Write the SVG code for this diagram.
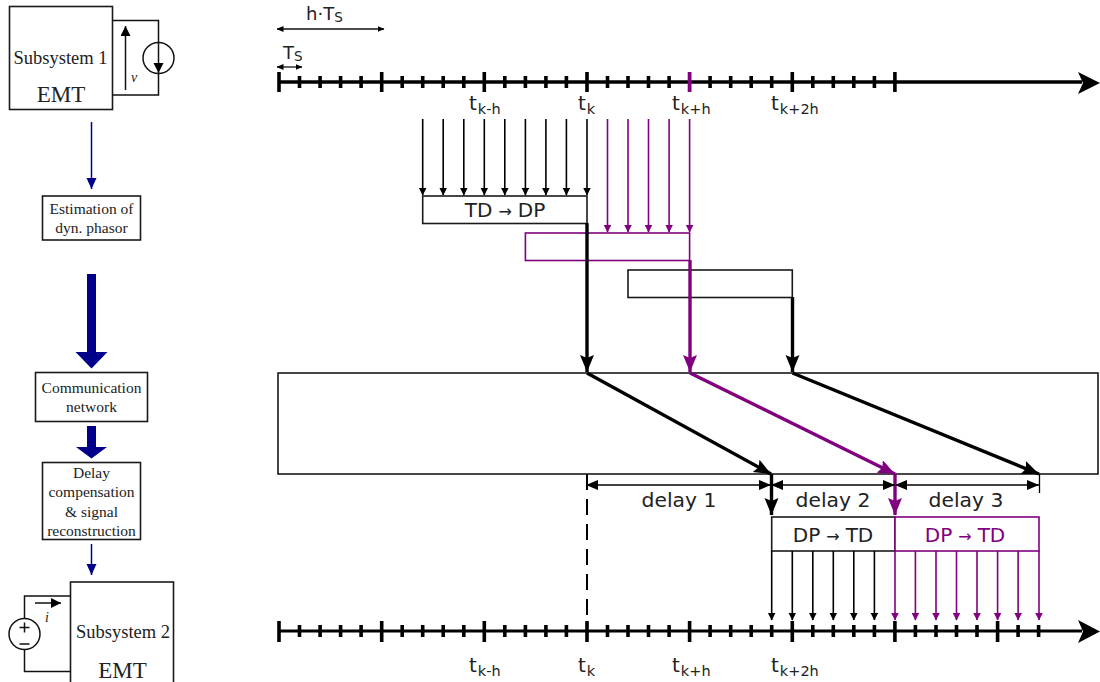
<svg xmlns="http://www.w3.org/2000/svg" width="1100" height="682" viewBox="0 0 1100 682">
<defs>
<marker id="aK" markerUnits="userSpaceOnUse" markerWidth="8" markerHeight="9" refX="7.5" refY="4" orient="auto"><path d="M0 0L8 4L0 8z" fill="#000"/></marker>
<marker id="aP" markerUnits="userSpaceOnUse" markerWidth="8" markerHeight="9" refX="7.5" refY="4" orient="auto"><path d="M0 0L8 4L0 8z" fill="#800080"/></marker>
<marker id="bK" markerUnits="userSpaceOnUse" markerWidth="18" markerHeight="15" refX="17" refY="7" orient="auto"><path d="M0 0L17 7L0 14L3 7z" fill="#000"/></marker>
<marker id="bP" markerUnits="userSpaceOnUse" markerWidth="18" markerHeight="15" refX="17" refY="7" orient="auto"><path d="M0 0L17 7L0 14L3 7z" fill="#800080"/></marker>
<marker id="dK" markerUnits="userSpaceOnUse" markerWidth="13" markerHeight="11" refX="12" refY="5" orient="auto"><path d="M0 0L12 5L0 10z" fill="#000"/></marker>
<marker id="dS" markerUnits="userSpaceOnUse" markerWidth="13" markerHeight="11" refX="1" refY="5" orient="auto"><path d="M12 0L0 5L12 10z" fill="#000"/></marker>
<marker id="uK" markerUnits="userSpaceOnUse" markerWidth="7" markerHeight="7" refX="6.500" refY="3" orient="auto"><path d="M0 0L7 3L0 6z" fill="#000"/></marker>
<marker id="uS" markerUnits="userSpaceOnUse" markerWidth="7" markerHeight="7" refX="0.500" refY="3" orient="auto"><path d="M7 0L0 3L7 6z" fill="#000"/></marker>
<marker id="bl" markerUnits="userSpaceOnUse" markerWidth="11" markerHeight="13" refX="11" refY="5" orient="auto"><path d="M0 0L11 5L0 10z" fill="#00008b"/></marker>
<marker id="cK" markerUnits="userSpaceOnUse" markerWidth="11" markerHeight="11" refX="10" refY="5" orient="auto"><path d="M0 0L10 5L0 10z" fill="#000"/></marker>
</defs>
<style>
.box{fill:#fff;stroke:#1a1a1a;stroke-width:1.6}
.sm{fill:none;stroke:#111;stroke-width:1.3}
.serif{font-family:"Liberation Serif","Times New Roman",serif;fill:#222;text-anchor:middle}
.sans{font-family:"DejaVu Sans",sans-serif;fill:#222}
.s14{font-size:15.5px}
.s16{font-size:18.5px}
.s20{font-size:23px}
.t{font-size:20px}
.sub{font-size:14.5px}
.kT{fill:none;stroke:#000;stroke-width:1.6;marker-end:url(#aK)}
.pT{fill:none;stroke:#800080;stroke-width:1.6;marker-end:url(#aP)}
.kB{fill:none;stroke:#000;stroke-width:3.4;marker-end:url(#bK)}
.pB{fill:none;stroke:#800080;stroke-width:3.4;marker-end:url(#bP)}
.dim{fill:none;stroke:#000;stroke-width:1.6;marker-start:url(#dS);marker-end:url(#dK)}
.blue{fill:none;stroke:#00008b;stroke-width:1.5;marker-end:url(#bl)}
.conv{font-size:20px;text-anchor:middle}
.arr{font-size:16px}
.dl{font-size:20.3px;text-anchor:middle}
</style>

<g id="subsystem1">
<rect class="box" x="9.500" y="6.500" width="103" height="103"/>
<path class="sm" style="stroke-width:1.500" d="M112.500 20.500H158.500V95H112.500"/>
<circle cx="158.500" cy="58" r="15.500" fill="#fff" stroke="#111" stroke-width="1.500"/>
<path d="M158.500 43V73" class="sm" style="stroke-width:1.500;marker-end:url(#cK)"/>
<path d="M125.500 90V26" class="sm" style="stroke-width:1.500;marker-end:url(#cK)"/>
<text class="serif" x="134" y="82" font-size="14" font-style="italic">v</text>
<text class="serif s16" x="60.500" y="64">Subsystem 1</text>
<text class="serif s20" x="61" y="102">EMT</text>
</g>
<g id="estimation">
<rect class="box" x="42.500" y="196" width="98" height="44"/>
<text class="serif s14" x="91.500" y="214">Estimation of</text>
<text class="serif s14" x="91.500" y="233">dyn. phasor</text>
</g>
<g id="network">
<rect class="box" x="35.500" y="372.500" width="112" height="49"/>
<text class="serif s14" x="91.500" y="393">Communication</text>
<text class="serif s14" x="91.500" y="412">network</text>
</g>
<g id="delaycomp">
<rect class="box" x="42.500" y="462.500" width="98" height="77"/>
<text class="serif s14" x="91.500" y="478">Delay</text>
<text class="serif s14" x="91.500" y="497">compensation</text>
<text class="serif s14" x="91.500" y="517">&amp; signal</text>
<text class="serif s14" x="91.500" y="536">reconstruction</text>
</g>
<g id="subsystem2">
<rect class="box" x="70.500" y="582" width="103" height="110"/>
<path class="sm" d="M70.500 596H24.500V671.500H70.500" style="stroke-width:1.500"/>
<circle cx="24.500" cy="634" r="15.500" fill="#fff" stroke="#111" stroke-width="1.500"/>
<path d="M24.500 622.500v10M19.500 627.500h10M19.500 644h10" class="sm" style="stroke-width:1.500"/>
<path d="M35 603H61" class="sm" style="stroke-width:1.500;marker-end:url(#cK)"/>
<text class="serif" x="47" y="622" font-size="14" font-style="italic">i</text>
<text class="serif s16" x="123" y="638">Subsystem 2</text>
<text class="serif s20" x="122.500" y="678">EMT</text>
</g>

<g id="connectors-left">
<path class="blue" d="M91.500 122V189"/>
<path d="M87 274h9v78h11.500l-16 16.500l-16-16.500h11.500z" fill="#00008b"/>
<path d="M87 426h9v21h11l-15.500 11.500l-15.500-11.500h11z" fill="#00008b"/>
<path class="blue" d="M91.500 544V575"/>
</g>

<g id="timeline-top">
<path d="M279 82H1082" stroke="#000" stroke-width="3.600" fill="none"/>
<path d="M1078 72L1100 83L1078 94L1083 83z" fill="#000"/>
<path d="M299.500 76v12M320.100 76v12M340.600 76v12M361.100 76v12M402.200 76v12M422.700 76v12M443.200 76v12M463.800 76v12M504.800 76v12M525.400 76v12M545.900 76v12M566.400 76v12M607.500 76v12M628 76v12M648.500 76v12M669.100 76v12M710.100 76v12M730.700 76v12M751.200 76v12M771.700 76v12M812.800 76v12M833.300 76v12M853.800 76v12M874.400 76v12" stroke="#000" stroke-width="3.600" fill="none"/>
<path d="M279 72v20M381.700 72v20M484.300 72v20M587 72v20M792.300 72v20M894.900 72v20" stroke="#000" stroke-width="3.600" fill="none"/>
<path d="M689.600 72v20" stroke="#800080" stroke-width="3.800" fill="none"/>
</g>
<g id="timeline-bottom">
<path d="M279 631H1082" stroke="#000" stroke-width="3.200" fill="none"/>
<path d="M1078 620L1100 631.500L1078 643L1083 631.500z" fill="#000"/>
<path d="M299.500 625v12M320.100 625v12M340.600 625v12M361.100 625v12M402.200 625v12M422.700 625v12M443.200 625v12M463.800 625v12M504.800 625v12M525.400 625v12M545.900 625v12M566.400 625v12M607.500 625v12M628 625v12M648.500 625v12M669.100 625v12M710.100 625v12M730.700 625v12M751.200 625v12M771.700 625v12M812.800 625v12M833.300 625v12M853.800 625v12M874.400 625v12M915.400 625v12M936 625v12M956.500 625v12M977 625v12M1018.100 625v12M1038.600 625v12" stroke="#000" stroke-width="3.600" fill="none"/>
<path d="M279 621v21M381.700 621v21M484.300 621v21M587 621v21M689.600 621v21M792.300 621v21M894.900 621v21M997.600 621v21" stroke="#000" stroke-width="3.600" fill="none"/>
</g>

<g id="labels-time">
<text class="sans" x="306" y="20" font-size="18">h·T<tspan font-size="13.500" dy="2">S</tspan></text>
<text class="sans" x="283" y="59" font-size="18">T<tspan font-size="13.500" dy="2">S</tspan></text>
<path class="sm" style="marker-start:url(#uS);marker-end:url(#uK)" d="M277 29H384"/>
<path class="sm" style="marker-start:url(#uS);marker-end:url(#uK)" d="M277 67H302"/>
<text class="sans t" x="469" y="110">t<tspan class="sub" dy="4" dx="1">k-h</tspan></text>
<text class="sans t" x="578" y="110">t<tspan class="sub" dy="4" dx="1">k</tspan></text>
<text class="sans t" x="672" y="110">t<tspan class="sub" dy="4" dx="1">k+h</tspan></text>
<text class="sans t" x="771" y="110">t<tspan class="sub" dy="4" dx="1">k+2h</tspan></text>
<text class="sans t" x="469" y="672">t<tspan class="sub" dy="4" dx="1">k-h</tspan></text>
<text class="sans t" x="578" y="672">t<tspan class="sub" dy="4" dx="1">k</tspan></text>
<text class="sans t" x="672" y="672">t<tspan class="sub" dy="4" dx="1">k+h</tspan></text>
<text class="sans t" x="771" y="672">t<tspan class="sub" dy="4" dx="1">k+2h</tspan></text>
</g>

<g id="node-network-band"><rect class="box" x="278" y="373" width="820" height="101"/></g>
<g id="node-td-dp-1"><rect x="422.700" y="196" width="164.300" height="27.500" class="box"/>
<text class="sans conv" x="505" y="216.500">TD<tspan class="arr" dx="6">→</tspan><tspan dx="6">DP</tspan></text></g>
<g id="node-td-dp-2"><rect x="525.400" y="233" width="164.200" height="27.500" fill="#fff" stroke="#800080" stroke-width="1.600"/></g>
<g id="node-td-dp-3"><rect x="628" y="270" width="164.300" height="27.500" class="box"/></g>
<g id="node-dp-td-1"><rect x="771.700" y="517" width="123.200" height="34" class="box"/>
<text class="sans conv" x="833" y="541.500">DP<tspan class="arr" dx="6">→</tspan><tspan dx="6">TD</tspan></text></g>
<g id="node-dp-td-2"><rect x="895" y="517" width="144" height="34" fill="#fff" stroke="#800080" stroke-width="1.600"/>
<text class="sans conv" x="965" y="541.500" style="fill:#800080">DP<tspan class="arr" dx="6">→</tspan><tspan dx="6">TD</tspan></text></g>

<g id="connectors">
<path class="kT" d="M422.700 119V195"/><path class="kT" d="M443.200 119V195"/><path class="kT" d="M463.800 119V195"/><path class="kT" d="M484.300 119V195"/><path class="kT" d="M504.800 119V195"/><path class="kT" d="M525.400 119V195"/><path class="kT" d="M545.900 119V195"/><path class="kT" d="M566.400 119V195"/><path class="kT" d="M587 119V195"/>
<path class="pT" d="M607.500 119V232"/><path class="pT" d="M628 119V232"/><path class="pT" d="M648.500 119V232"/><path class="pT" d="M669.100 119V232"/><path class="pT" d="M689.600 119V232"/>
<path class="kB" d="M587 223V372"/>
<path class="pB" d="M690 260V372"/>
<path class="kB" d="M792.500 297V372"/>
<path class="kB" d="M587 373L771 474"/>
<path class="pB" d="M690 373L895 474"/>
<path class="kB" d="M792.500 373L1039 474"/>
<path class="kB" d="M771.500 474V515"/>
<path class="pB" d="M895 474V515"/>
<path d="M587 474V620" stroke="#000" stroke-width="2" stroke-dasharray="16 9" fill="none"/>
<path d="M1039.500 474V493" stroke="#000" stroke-width="1.300" fill="none"/>
<path class="dim" d="M587 485H771"/>
<path class="dim" d="M772 485H895"/>
<path class="dim" d="M896 485H1039"/>
<path class="kT" d="M771.700 551V620"/><path class="kT" d="M792.300 551V620"/><path class="kT" d="M812.800 551V620"/><path class="kT" d="M833.300 551V620"/><path class="kT" d="M853.800 551V620"/><path class="kT" d="M874.400 551V620"/>
<path class="pT" d="M895 551V620"/><path class="pT" d="M915.400 551V620"/><path class="pT" d="M936 551V620"/><path class="pT" d="M956.500 551V620"/><path class="pT" d="M977 551V620"/><path class="pT" d="M997.600 551V620"/><path class="pT" d="M1018.100 551V620"/><path class="pT" d="M1039 551V620"/>
</g>
<g id="labels-delay">
<text class="sans dl" x="679" y="507">delay 1</text>
<text class="sans dl" x="833" y="507">delay 2</text>
<text class="sans dl" x="966" y="507">delay 3</text>
</g>
</svg>
